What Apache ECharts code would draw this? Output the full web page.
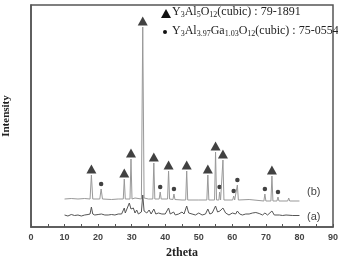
<!DOCTYPE html>
<html>
<head>
<meta charset="utf-8">
<script src="https://cdn.jsdelivr.net/npm/echarts@6/dist/echarts.min.js"></script>
<style>
html, body { margin: 0; padding: 0; background: #fff; }
#chart { width: 338px; height: 257px; }
</style>
</head>
<body>
<div id="chart"></div>
<script>
// x tick labels
var xTicks = [0, 10, 20, 30, 40, 50, 60, 70, 80, 90];

// pattern (b): [2theta, intensity]
var traceB = [
  [10, 28], [12, 28.5], [14, 28], [16, 28.5], [17.6, 28], [18, 52], [18.4, 28],
  [20.5, 28], [20.9, 38], [21.3, 28], [24, 27.5], [26, 28], [27.5, 28], [27.8, 48],
  [28.1, 28], [29.5, 28], [29.8, 68], [30.1, 28], [31, 29], [32.9, 28], [33.3, 200],
  [33.7, 29], [35, 28], [36.3, 28], [36.6, 64], [36.9, 28], [38.2, 28], [38.5, 35],
  [38.8, 28], [40.7, 28], [41, 56], [41.3, 28], [42.3, 27.5], [42.6, 33], [42.9, 27.5],
  [45, 27], [46.1, 27], [46.4, 56], [46.7, 27], [50, 27], [52.4, 27], [52.7, 52],
  [53, 27], [54.7, 27], [55, 75], [55.3, 27], [56, 27], [56.2, 35], [56.5, 27],
  [56.9, 27], [57.2, 67], [57.5, 27], [60.1, 27], [60.4, 31], [60.7, 27], [61.2, 27],
  [61.5, 42], [61.8, 27], [65, 27.5], [69.4, 26], [69.7, 33], [70, 26], [71.5, 26],
  [71.8, 51], [72.1, 26], [73.3, 26], [73.6, 30], [73.9, 26], [76.5, 26], [76.8, 29],
  [77.1, 26], [80, 26]
];

// pattern (a)
var traceA = [
  [10, 12], [11, 11], [12, 12.5], [13, 11.5], [14, 12], [15, 11], [16, 12], [17, 12.5],
  [17.6, 13], [18, 20], [18.4, 13], [19, 12], [20, 12.5], [21, 13], [22, 12], [23, 12],
  [24, 12.5], [25, 12], [26, 13], [27, 13], [27.5, 14], [27.8, 19], [28.1, 14], [28.5, 16],
  [29.3, 24], [29.8, 18], [30.5, 19], [31, 14], [31.5, 17], [32, 13], [32.9, 15], [33.3, 32],
  [33.7, 16], [34.5, 14], [35.2, 17], [35.8, 13], [36.6, 18], [37.2, 13], [38, 14], [38.5, 16],
  [39, 13], [40, 13], [41, 19], [41.5, 13], [42.5, 15], [43, 12], [44, 13], [45, 15],
  [45.6, 13], [46.4, 21], [47, 14], [48, 13], [49, 12], [50, 14], [51, 12], [52, 13],
  [52.7, 18], [53.3, 13], [54, 14], [55, 21], [55.6, 15], [56.3, 16], [57.2, 19], [58, 14],
  [59, 12], [60, 14], [61, 13], [61.5, 16], [62.2, 13], [63, 12], [64, 13], [65, 13],
  [66, 14], [67, 14.5], [68, 13.5], [69, 12], [69.7, 14], [70.5, 12], [71.8, 16], [72.5, 12],
  [74, 12], [75, 11.5], [76, 12], [78, 11.5], [80, 11.5]
];

// indexed peaks on (b)
var yagPeaks = [[18, 52], [27.8, 48], [29.8, 68], [33.3, 200], [36.6, 64], [41, 56],
  [46.4, 56], [52.7, 52], [55, 75], [57.2, 67], [71.8, 51]];
var gaPeaks = [[20.9, 38], [38.5, 35], [42.6, 33], [56.2, 35], [60.4, 31], [61.5, 42],
  [69.7, 33], [73.6, 30]];

var serif = '"Liberation Serif", "DejaVu Serif", serif';
var subStyle = { fontSize: 8, fontFamily: serif, color: '#222', padding: [5, 0, 0, 0] };

var dom = document.getElementById('chart');
var myChart = echarts.init(dom);

var option = {
  backgroundColor: '#ffffff',
  animation: false,
  grid: {
    left: 31, right: 5, top: 5, bottom: 30, outerBoundsMode: 'none',
    show: true, borderColor: '#555', borderWidth: 1.5
  },
  xAxis: {
    type: 'value', min: 0, max: 90, interval: 10,
    name: '2theta', nameLocation: 'middle', nameGap: 18,
    nameTextStyle: { fontFamily: serif, fontWeight: 'bold', fontSize: 12, color: '#222' },
    axisLine: { lineStyle: { color: '#555', width: 1.5 } },
    axisTick: { inside: true, length: 3, lineStyle: { color: '#555' } },
    minorTick: { show: true, splitNumber: 2, length: 3, lineStyle: { color: '#555' } },
    axisLabel: {
      fontSize: 9, fontWeight: 'bold', color: '#444', margin: 6,
      fontFamily: '"Liberation Sans", Arial, sans-serif',
      formatter: function (v) { return xTicks.indexOf(v) >= 0 ? String(v) : ''; }
    },
    splitLine: { show: false }
  },
  yAxis: {
    type: 'value', min: 0, max: 222,
    name: 'Intensity', nameLocation: 'middle', nameGap: 19, nameRotate: 90,
    nameTextStyle: { fontFamily: serif, fontWeight: 'bold', fontSize: 11, color: '#222' },
    axisLine: { show: true, lineStyle: { color: '#555', width: 1.5 } },
    axisTick: { show: false },
    axisLabel: { show: false },
    splitLine: { show: false }
  },
  series: [
    { type: 'line', data: traceB, symbol: 'none', lineStyle: { color: '#999', width: 1 } },
    { type: 'line', data: traceA, symbol: 'none', lineStyle: { color: '#555', width: 1 } },
    { type: 'scatter', data: yagPeaks, symbol: 'triangle', symbolSize: [10, 9],
      symbolOffset: [0, -6], itemStyle: { color: '#111' } },
    { type: 'scatter', data: gaPeaks, symbol: 'circle', symbolSize: 4.5,
      symbolOffset: [0, -5], itemStyle: { color: '#111' } }
  ],
  graphic: [
    { type: 'polygon', shape: { points: [[161, 18], [171, 18], [166, 9]] }, style: { fill: '#111' } },
    { type: 'circle', shape: { cx: 165, cy: 32, r: 2 }, style: { fill: '#111' } },
    {
      type: 'text', left: 172, top: 6,
      style: {
        text: 'Y{s|3}Al{s|5}O{s|12}(cubic) : 79-1891',
        font: '12px ' + serif, fill: '#222',
        rich: { s: subStyle }
      }
    },
    {
      type: 'text', left: 172, top: 25,
      style: {
        text: 'Y{s|3}Al{s|3.97}Ga{s|1.03}O{s|12}(cubic) : 75-0554',
        font: '12px ' + serif, fill: '#222',
        rich: { s: subStyle }
      }
    },
    { type: 'text', left: 307, top: 186, style: { text: '(b)', font: '11px "Liberation Sans", sans-serif', fill: '#444' } },
    { type: 'text', left: 307, top: 211, style: { text: '(a)', font: '11px "Liberation Sans", sans-serif', fill: '#444' } }
  ]
};

if (option && typeof option === 'object') {
  myChart.setOption(option, true);
}
</script>
</body>
</html>
